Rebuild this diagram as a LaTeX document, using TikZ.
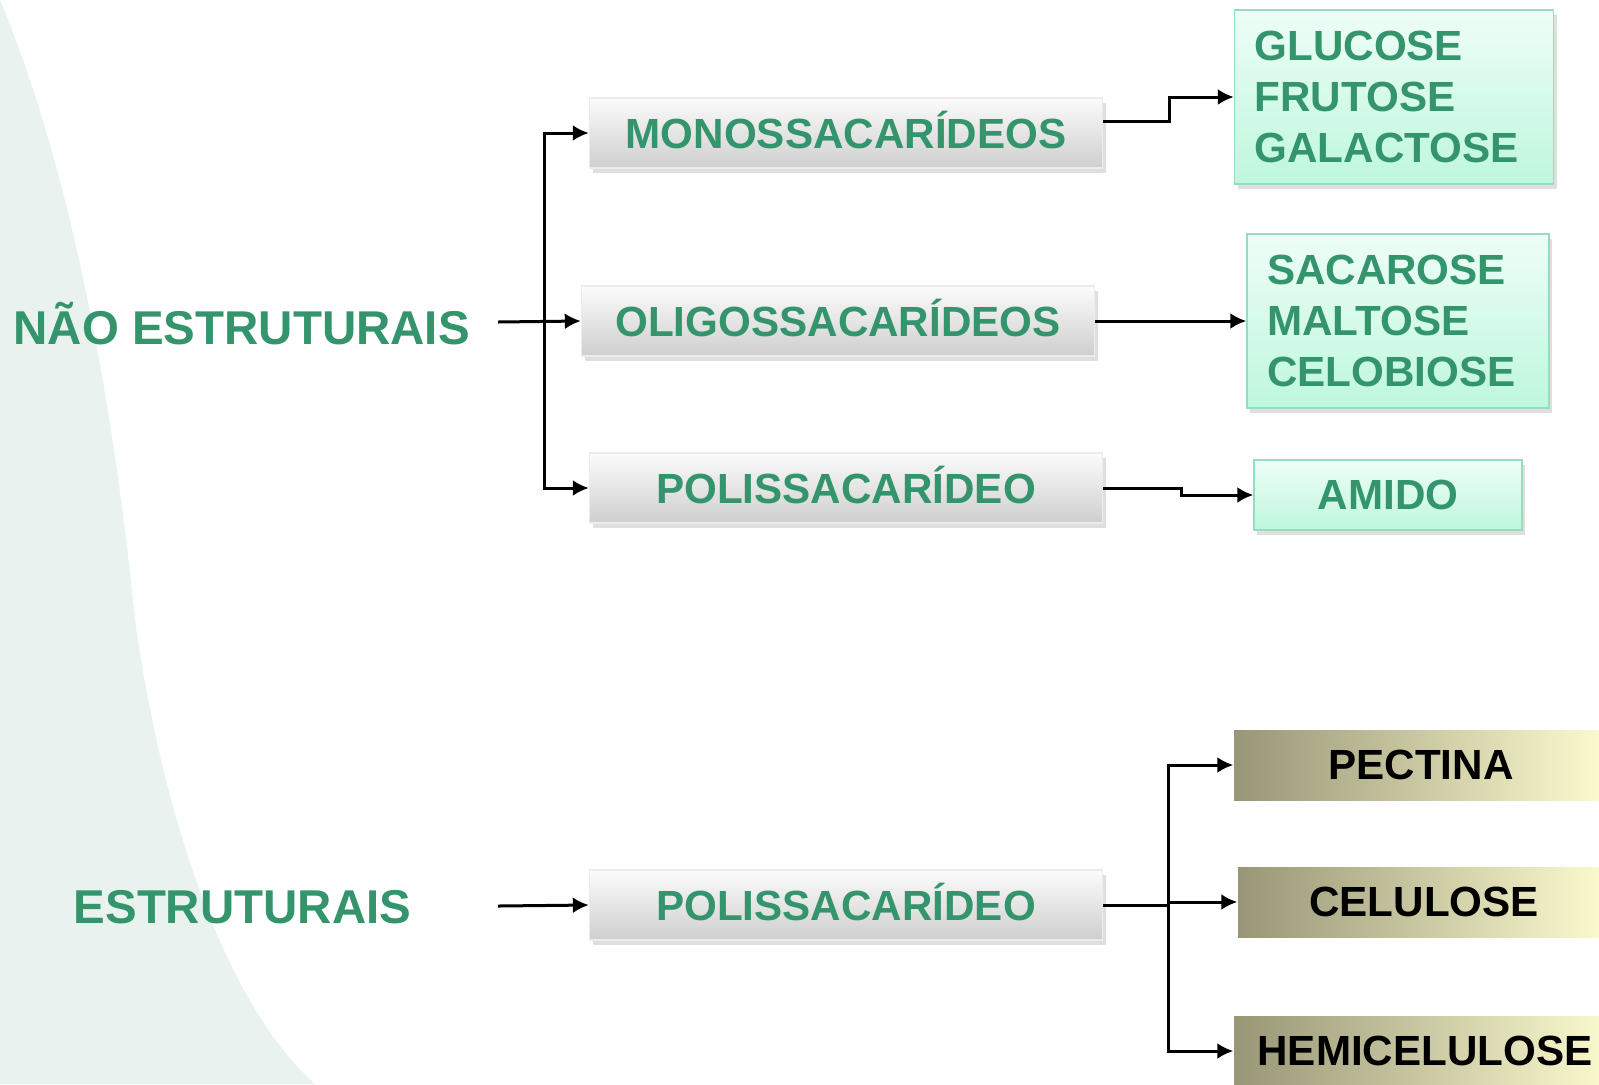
\documentclass[tikz,border=0pt]{standalone}
\usepackage{fontspec}
\setmainfont{Liberation Sans}
\usetikzlibrary{arrows.meta,shadows}
\definecolor{leafgreen}{RGB}{52,148,108}
\definecolor{leafbg}{RGB}{233,242,239}
\definecolor{minttop}{RGB}{238,254,247}
\definecolor{mintbot}{RGB}{190,247,221}
\definecolor{mintline}{RGB}{150,220,190}
\definecolor{olive}{RGB}{152,150,118}
\definecolor{cream}{RGB}{253,252,208}
\tikzstyle{link} = [draw,line width=0.3mm,-{Latex[length=1.6mm,width=1.6mm]}]
\tikzstyle{head} = [inner sep=0pt,anchor=west,text=leafgreen,font=\fontsize{13.5}{16}\selectfont\bfseries]
\tikzstyle{klass} = [draw=gray!15,top color=gray!3,bottom color=gray!38,minimum width=51.3mm,minimum height=7mm,inner sep=0pt,text height=8.6pt,text depth=0pt,text=leafgreen,font=\fontsize{12}{14.5}\selectfont\bfseries,drop shadow={shadow xshift=0.3mm,shadow yshift=-0.5mm,opacity=0.25}]
\tikzstyle{sugar} = [draw=mintline,top color=minttop,bottom color=mintbot,minimum height=#1,inner xsep=2mm,inner ysep=0pt,align=left,text=leafgreen,font=\fontsize{12}{14.5}\selectfont\bfseries,drop shadow={shadow xshift=0.3mm,shadow yshift=-0.5mm,opacity=0.25}]
\tikzstyle{wall} = [left color=olive,right color=cream,minimum height=7mm,inner sep=0pt,text=black,font=\fontsize{12}{14.5}\selectfont\bfseries]

\begin{document}
\begin{tikzpicture}[x=0.1mm,y=-0.1mm]
\clip (0,0) rectangle (1599,1084);
\fill[white] (0,0) rectangle (1599,1084);
\fill[leafbg] (0,0) .. controls (75,180) and (115,420) .. (135,620) .. controls (160,800) and (220,1000) .. (315,1084) -- (0,1084) -- cycle;

% left side labels
\node[head] (nao) at (13,324) {NÃO ESTRUTURAIS};
\node[head] (est) at (73,907) {ESTRUTURAIS};

% middle classes
\node[klass] (m1) at (846,133) {MONOSSACARÍDEOS};
\node[klass] (o1) at (838,321) {OLIGOSSACARÍDEOS};
\node[klass] (p1) at (846,488) {POLISSACARÍDEO};
\node[klass] (p2) at (846,905) {POLISSACARÍDEO};

% examples
\node[sugar=17.4mm,text width=27.9mm] (g1) at (1394,97) {GLUCOSE\\FRUTOSE\\GALACTOSE};
\node[sugar=17.4mm,text width=26.2mm] (s1) at (1398,321) {SACAROSE\\MALTOSE\\CELOBIOSE};
\node[sugar=7mm,minimum width=26.8mm,align=center] (a1) at (1388,495) {AMIDO};
\node[wall,minimum width=37.4mm] (w1) at (1421,765) {PECTINA};
\node[wall,minimum width=37.2mm] (w2) at (1424,902) {CELULOSE};
\node[wall,minimum width=38.2mm] (w3) at (1425,1051) {HEMICELULOSE};

\coordinate (t1) at (498,322);
\coordinate (b1) at (544,322);
\coordinate (t2) at (498,906);
\coordinate (b2) at (1168,905);

\draw[link] (t1) -- (o1.west);
\draw[link] (b1) |- (m1.west);
\draw[link] (b1) |- (p1.west);
\draw[link] ([yshift=1.2mm]m1.east) -- ++(66,0) |- (g1.west);
\draw[link] (o1.east) -- (s1.west);
\draw[link] (p1.east) -- ++(78,0) |- (a1.west);

\draw[link] (t2) -- (p2.west);
\draw[line width=0.3mm] (p2.east) -- (b2);
\draw[link] (b2) |- (w1.west);
\draw[link] (b2) |- (w2.west);
\draw[link] (b2) |- (w3.west);

\end{tikzpicture}
\end{document}
